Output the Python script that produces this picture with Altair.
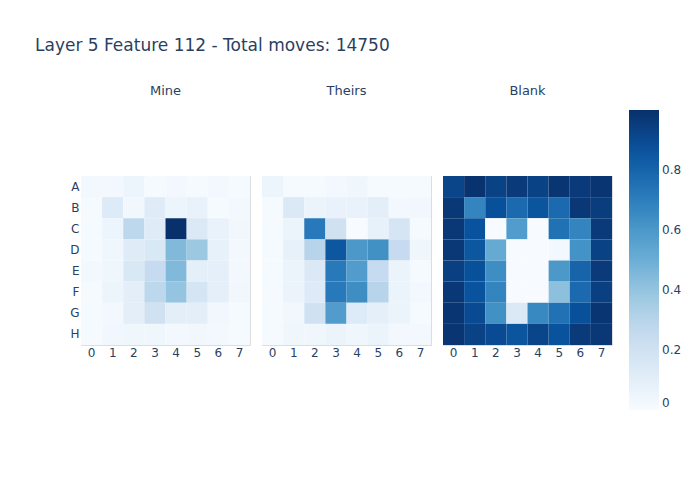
import altair as alt
import pandas as pd

rows = ["A", "B", "C", "D", "E", "F", "G", "H"]
cols = ["0", "1", "2", "3", "4", "5", "6", "7"]
boards = ["Mine", "Theirs", "Blank"]

mine = [
    [0.02, 0.02, 0.05, 0.01, 0.02, 0.01, 0.02, 0.01],
    [0.01, 0.13, 0.03, 0.12, 0.05, 0.07, 0.01, 0.02],
    [0.01, 0.05, 0.28, 0.12, 1.00, 0.14, 0.07, 0.03],
    [0.01, 0.04, 0.12, 0.15, 0.45, 0.38, 0.08, 0.02],
    [0.02, 0.04, 0.15, 0.25, 0.45, 0.09, 0.09, 0.02],
    [0.01, 0.05, 0.10, 0.28, 0.40, 0.17, 0.09, 0.03],
    [0.01, 0.02, 0.10, 0.20, 0.10, 0.10, 0.03, 0.01],
    [0.01, 0.03, 0.04, 0.04, 0.02, 0.03, 0.02, 0.01],
]
theirs = [
    [0.05, 0.01, 0.01, 0.02, 0.04, 0.01, 0.01, 0.01],
    [0.01, 0.14, 0.06, 0.07, 0.07, 0.10, 0.02, 0.03],
    [0.01, 0.06, 0.72, 0.20, 0.00, 0.08, 0.17, 0.01],
    [0.01, 0.08, 0.30, 0.85, 0.60, 0.63, 0.25, 0.04],
    [0.01, 0.06, 0.14, 0.72, 0.58, 0.25, 0.06, 0.01],
    [0.01, 0.06, 0.13, 0.72, 0.64, 0.30, 0.06, 0.02],
    [0.01, 0.03, 0.20, 0.58, 0.13, 0.09, 0.06, 0.01],
    [0.01, 0.04, 0.04, 0.06, 0.04, 0.06, 0.02, 0.02],
]
blank = [
    [0.92, 0.99, 0.93, 0.96, 0.93, 0.98, 0.96, 0.98],
    [0.97, 0.68, 0.88, 0.78, 0.86, 0.78, 0.97, 0.95],
    [0.97, 0.87, 0.00, 0.58, 0.00, 0.75, 0.68, 0.96],
    [0.97, 0.85, 0.52, 0.00, 0.00, 0.02, 0.62, 0.93],
    [0.94, 0.88, 0.64, 0.00, 0.00, 0.60, 0.80, 0.96],
    [0.97, 0.87, 0.68, 0.00, 0.00, 0.42, 0.78, 0.94],
    [0.98, 0.90, 0.63, 0.14, 0.66, 0.75, 0.88, 0.98],
    [0.98, 0.93, 0.90, 0.86, 0.92, 0.87, 0.96, 0.97],
]

blues = ["rgb(247,251,255)", "rgb(222,235,247)", "rgb(198,219,239)",
         "rgb(158,202,225)", "rgb(107,174,214)", "rgb(66,146,198)",
         "rgb(33,113,181)", "rgb(8,81,156)", "rgb(8,48,107)"]
stops = [0, 0.125, 0.25, 0.375, 0.5, 0.625, 0.75, 0.875, 1.0]

FONT = "DejaVu Sans"
TXT = "#2a3f5f"


def frame(mat):
    recs = []
    for i, r in enumerate(rows):
        for j, c in enumerate(cols):
            recs.append({"row": r, "col": c, "value": mat[i][j]})
    return pd.DataFrame(recs)


scale = alt.Scale(domain=stops, range=blues)
color = alt.Color(
    "value:Q",
    scale=scale,
    legend=alt.Legend(
        type="gradient",
        title=None, orient="none", legendX=548, legendY=-66,
        gradientLength=300, gradientThickness=30, values=[0, 0.2, 0.4, 0.6, 0.8],
        labelFont=FONT, labelFontSize=12, labelColor=TXT, labelOffset=3,
        format="~g",
    ),
)

panels = []
for k, (name, mat) in enumerate(zip(boards, [mine, theirs, blank])):
    yaxis = alt.Axis(title=None, ticks=False, domain=False, labelPadding=2,
                     labelFont=FONT, labelFontSize=12, labelColor=TXT) if k == 0 else None
    ch = alt.Chart(frame(mat)).mark_rect().encode(
        x=alt.X("col:O", sort=cols, title=None,
                axis=alt.Axis(labelAngle=0, ticks=False, domain=False, labelPadding=2,
                              labelFont=FONT, labelFontSize=12, labelColor=TXT)),
        y=alt.Y("row:O", sort=rows, axis=yaxis),
        color=color,
    ).properties(
        width=169, height=169,
        title=alt.TitleParams(name, fontSize=13, font=FONT, color=TXT,
                              fontWeight="normal", offset=78),
    )
    panels.append(ch)

chart = alt.hconcat(*panels, spacing=10).properties(
    title=alt.TitleParams("Layer 5 Feature 112 - Total moves: 14750", anchor="start",
                          fontSize=17, font=FONT, color=TXT, fontWeight="normal",
                          frame="group", dx=-46, offset=30),
    padding={"left": 35, "top": 36, "right": 5, "bottom": 5},
).configure_view(stroke=None).configure(background="white")

chart.save("out.html", embed_options={"renderer": "svg", "actions": False})
